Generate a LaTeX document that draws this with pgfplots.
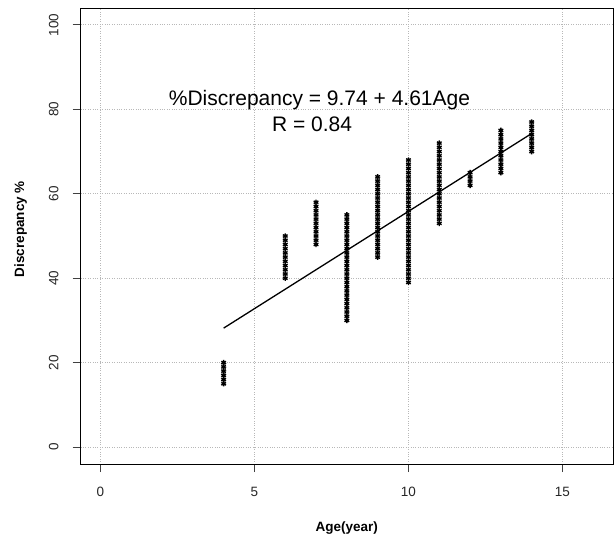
\documentclass[border=0pt]{standalone}
\usepackage{pgfplots}
\pgfplotsset{compat=1.18}
\usepackage{fontspec}
\setmainfont{Liberation Sans}

% Observed discrepancy (%) by age (years)
\newcommand{\obs}{
(4,15) (4,16) (4,17) (4,18) (4,19) (4,20)
(6,40) (6,41) (6,42) (6,43) (6,44) (6,45) (6,46) (6,47) (6,48) (6,49) (6,50)
(7,48) (7,49) (7,50) (7,51) (7,52) (7,53) (7,54) (7,55) (7,56) (7,57) (7,58)
(8,30) (8,31) (8,32) (8,33) (8,34) (8,35) (8,36) (8,37) (8,38) (8,39) (8,40)
(8,41) (8,42) (8,43) (8,44) (8,45) (8,46) (8,47) (8,48) (8,49) (8,50) (8,51)
(8,52) (8,53) (8,54) (8,55)
(9,45) (9,46) (9,47) (9,48) (9,49) (9,50) (9,51) (9,52) (9,53) (9,54) (9,55)
(9,56) (9,57) (9,58) (9,59) (9,60) (9,61) (9,62) (9,63) (9,64)
(10,39) (10,40) (10,41) (10,42) (10,43) (10,44) (10,45) (10,46) (10,47) (10,48)
(10,49) (10,50) (10,51) (10,52) (10,53) (10,54) (10,55) (10,56) (10,57) (10,58)
(10,59) (10,60) (10,61) (10,62) (10,63) (10,64) (10,65) (10,66) (10,67) (10,68)
(11,53) (11,54) (11,55) (11,56) (11,57) (11,58) (11,59) (11,60) (11,61) (11,62)
(11,63) (11,64) (11,65) (11,66) (11,67) (11,68) (11,69) (11,70) (11,71) (11,72)
(12,62) (12,63) (12,64) (12,65)
(13,65) (13,66) (13,67) (13,68) (13,69) (13,70) (13,71) (13,72) (13,73) (13,74) (13,75)
(14,70) (14,71) (14,72) (14,73) (14,74) (14,75) (14,76) (14,77)
}

\begin{document}
\begin{tikzpicture}
\useasboundingbox (-80.7bp,-75bp) rectangle (533.3bp,464bp);
\begin{axis}[
  at={(0,0)}, anchor=south west,
  scale only axis,
  width=532.3bp, height=456bp,
  xmin=-0.64, xmax=16.64,
  ymin=-4, ymax=104,
  xtick={0,5,10,15},
  ytick={0,20,40,60,80,100},
  xtick pos=bottom, ytick pos=left,
  tick align=outside,
  major tick length=8bp,
  axis line style={black, line width=0.8bp},
  major tick style={black!75, line width=0.8bp},
  grid=major,
  grid style={dotted, black!28, line width=0.8bp},
  /pgf/number format/assume math mode=true,
  ticklabel style={font=\fontsize{13.5bp}{16bp}\selectfont, text=black!85},
  xticklabel style={anchor=center},
  yticklabel style={rotate=90, anchor=center},
  xticklabel shift=20bp,
  yticklabel shift=19bp,
  xlabel={\textbf{Age(year)}},
  ylabel={\textbf{Discrepancy \%}},
  every axis x label/.style={at={(axis description cs:0.5,-0.1404)}, anchor=center,
    font=\fontsize{13.5bp}{16bp}\selectfont},
  every axis y label/.style={at={(axis description cs:-0.1127,0.515)}, rotate=90, anchor=center,
    font=\fontsize{13.5bp}{16bp}\selectfont},
  clip=false,
]
\addplot[only marks, mark=asterisk, mark size=2.7bp, line width=1.4bp, black] coordinates {\obs};
\addplot[black, line width=1.3bp] coordinates {(4,28.18) (14,74.28)};
\node[anchor=base, font=\fontsize{21bp}{24bp}\selectfont] at (axis cs:7.11,80.8) {\%Discrepancy = 9.74 + 4.61Age};
\node[anchor=base, font=\fontsize{21bp}{24bp}\selectfont] at (axis cs:6.87,74.8) {R = 0.84};
\end{axis}
\end{tikzpicture}
\end{document}
